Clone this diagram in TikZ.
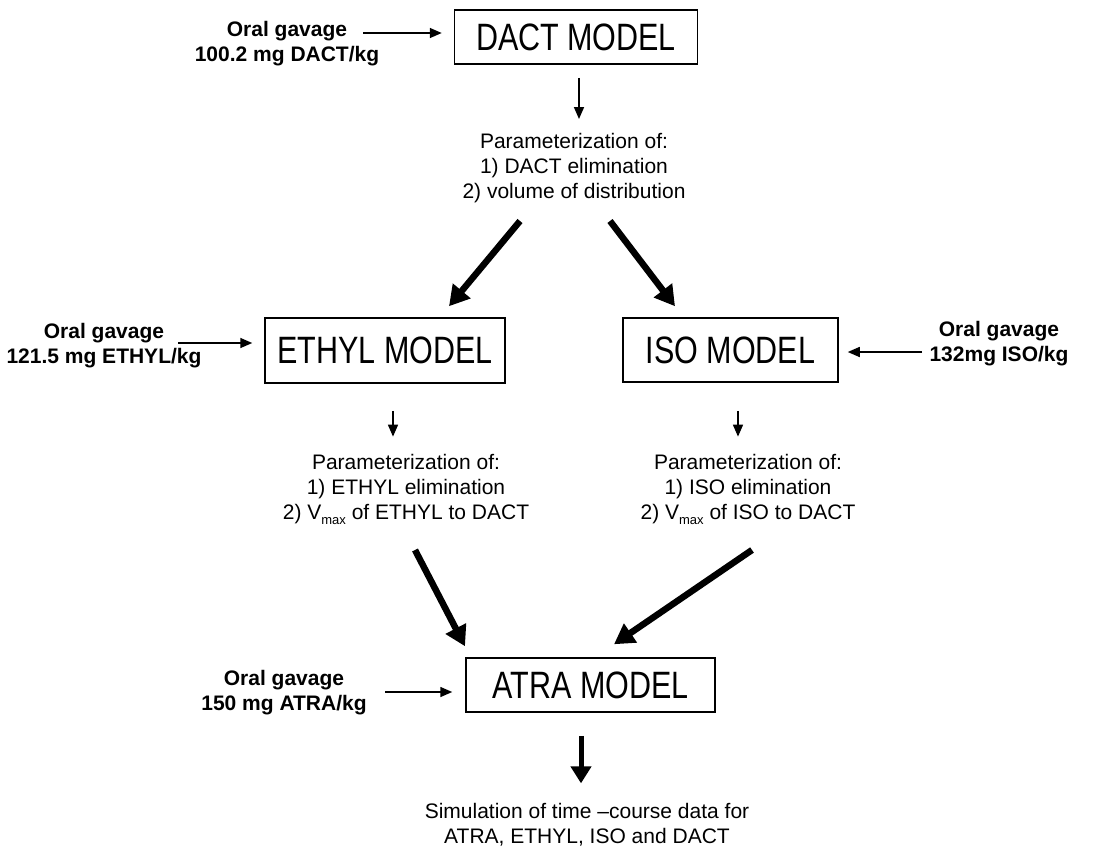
\documentclass[tikz,border=0pt]{standalone}
\usepackage{fontspec}
\setmainfont{Liberation Sans}
\usetikzlibrary{arrows.meta,calc}
\newcommand{\vmx}{V\raisebox{-0.45ex}{\fontsize{13}{13}\selectfont max}}
\newcommand{\boxtxt}[1]{\scalebox{1}[1.25]{#1}}
\begin{document}
\begin{tikzpicture}[x=1pt,y=-1pt,
  box/.style={draw, line width=1.5pt, inner sep=0pt, font=\fontsize{30.5}{36}\selectfont},
  lab/.style={font=\bfseries\fontsize{21}{25}\selectfont, align=center, inner sep=0pt},
  txt/.style={font=\fontsize{21}{25}\selectfont, align=center, inner sep=0pt},
  thinarrow/.style={line width=1.6pt, -{Triangle[length=12pt,width=10pt]}},
  bigarrow/.style={line width=6.5pt, -{Triangle[length=20pt,width=22pt]}},
  midarrow/.style={line width=5pt, -{Triangle[length=17pt,width=20pt]}},
]
\useasboundingbox (0,0) rectangle (1093,847);

% model boxes
\node[box, minimum width=243pt, minimum height=54pt] (dact) at (576,37) {\boxtxt{DACT MODEL}};
\node[box, minimum width=240pt, minimum height=65pt] (ethyl) at (385,350.5) {\boxtxt{ETHYL MODEL}};
\node[box, minimum width=215pt, minimum height=64pt] (iso) at (730.5,350) {\boxtxt{ISO MODEL}};
\node[box, minimum width=249pt, minimum height=54pt] (atra) at (590.5,685) {\boxtxt{ATRA MODEL}};

% dosing labels
\node[lab] (l1) at (287,44) {Oral gavage\\100.2 mg DACT/kg};
\node[lab] (l2) at (104,346) {Oral gavage\\121.5 mg ETHYL/kg};
\node[lab] (l3) at (999,344) {Oral gavage\\132mg ISO/kg};
\node[lab] (l4) at (284,693) {Oral gavage\\150 mg ATRA/kg};

% parameterization texts
\node[txt] (pd) at (574,168) {Parameterization of:\\1) DACT elimination\\2) volume of distribution};
\node[txt] (pe) at (406,489) {Parameterization of:\\1) ETHYL elimination\\2) \vmx{} of ETHYL to DACT};
\node[txt] (pi) at (748,489) {Parameterization of:\\1) ISO elimination\\2) \vmx{} of ISO to DACT};
\node[txt] (sim) at (587,825) {Simulation of time –course data for\\ATRA, ETHYL, ISO and DACT};

% dosing arrows
\coordinate (a1) at (363,33);
\coordinate (a2) at (178,343);
\coordinate (a3) at (922,352);
\coordinate (a4) at (385,692);
\draw[thinarrow, shorten >=12pt] (a1) -- (a1 -| dact.west);
\draw[thinarrow, shorten >=12pt] (a2) -- (a2 -| ethyl.west);
\draw[thinarrow, shorten >=9pt] (a3) -- (a3 -| iso.east);
\draw[thinarrow, shorten >=13pt] (a4) -- (a4 -| atra.west);

% model -> parameterization
\draw[thinarrow, shorten <=13pt, shorten >=14pt] ([xshift=3pt]dact.south) -- ([xshift=3pt]dact.south |- pd.north);
\draw[thinarrow, shorten <=27pt, shorten >=17pt] ([xshift=8pt]ethyl.south) -- ([xshift=8pt]ethyl.south |- pe.north);
\draw[thinarrow, shorten <=28pt, shorten >=17pt] ([xshift=7.5pt]iso.south) -- ([xshift=7.5pt]iso.south |- pi.north);

% big arrows
\coordinate (s1) at (520,221);
\coordinate (s2) at (610,221);
\coordinate (s3) at (415,550);
\coordinate (s4) at (752,550);
\draw[bigarrow] (s1) -- ($(ethyl.north)+(64,-11)$);
\draw[bigarrow] (s2) -- ($(iso.north)+(-55.5,-11)$);
\draw[bigarrow] (s3) -- ($(atra.north)+(-125.5,-11)$);
\draw[bigarrow] (s4) -- ($(atra.north)+(23.5,-13)$);

% atra -> simulation
\draw[midarrow, shorten <=23pt, shorten >=20pt] ([xshift=-9.5pt]atra.south) -- ([xshift=-9.5pt]atra.south |- sim.north);
\end{tikzpicture}
\end{document}
